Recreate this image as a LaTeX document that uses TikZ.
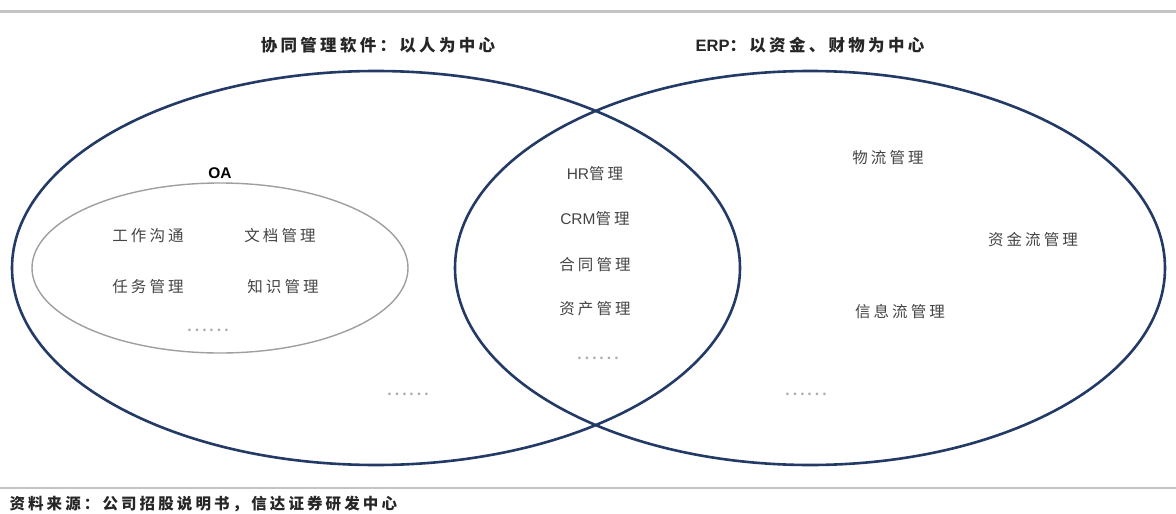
\documentclass[tikz,border=0pt]{standalone}
\usepackage{fontspec}
\usetikzlibrary{shapes.geometric}
\setmainfont{Liberation Sans}
\newfontfamily\cjk{Noto Sans CJK SC}[LetterSpace=20]
\newfontfamily\cjkplain{Noto Sans CJK SC}
\definecolor{navy}{HTML}{233A66}
\definecolor{txt}{HTML}{444444}
\definecolor{rule}{HTML}{C4C4C4}
\tikzset{
  bigset/.style={draw=navy, line width=2.6pt, ellipse, inner sep=0pt},
  oaset/.style={draw=gray!75, line width=1.4pt, ellipse, inner sep=0pt},
  title/.style={font=\fontsize{16.5}{19}\selectfont\bfseries\cjk, text=black!85},
  item/.style={font=\fontsize{15.5}{18}\selectfont\cjk, text=txt},
  dots/.style={font=\fontsize{20}{22}\selectfont\cjkplain, text=gray!65},
  src/.style={font=\fontsize{15.5}{18}\selectfont\bfseries\cjk, text=black!85}
}
\begin{document}
\begin{tikzpicture}[x=1pt,y=-1pt]
\useasboundingbox (0,0) rectangle (1176,514);
\fill[white] (0,0) rectangle (1176,514);
% rules
\draw[rule, line width=3pt] (0,11) -- (1176,11);
\draw[rule, line width=2.2pt] (0,488) -- (1176,488);
% sets
\node[bigset, minimum width=728pt, minimum height=394pt] (left) at (376,268) {};
\node[bigset, minimum width=710pt, minimum height=394pt] (right) at (810,268) {};
\node[oaset, minimum width=376pt, minimum height=170pt] (oa) at (220,268) {};
% titles
\node[title] (tl) at (378,45) {协同管理软件：以人为中心};
\node[title] (tr) at (810,45) {{\rmfamily ERP}：以资金、财物为中心};
\node[font=\fontsize{15.5}{18}\selectfont\bfseries] (oal) at (220,173) {OA};
% OA items
\node[item] (a1) at (148,236) {工作沟通};
\node[item] (a2) at (280,236) {文档管理};
\node[item] (a3) at (148,287) {任务管理};
\node[item] (a4) at (283,287) {知识管理};
\node[dots] (a5) at (208,330) {……};
% left only
\node[dots] (l1) at (408,394) {……};
% middle
\node[item] (m1) at (595,174) {{\rmfamily HR}管理};
\node[item] (m2) at (595,219) {{\rmfamily CRM}管理};
\node[item] (m3) at (595,265) {合同管理};
\node[item] (m4) at (595,309) {资产管理};
\node[dots] (m5) at (598,358) {……};
% right
\node[item] (r1) at (888,158) {物流管理};
\node[item] (r2) at (1033,240) {资金流管理};
\node[item] (r3) at (900,312) {信息流管理};
\node[dots] (r4) at (806,394) {……};
% source
\node[src, anchor=west] (s) at (6,504) {资料来源：公司招股说明书，信达证券研发中心};
\end{tikzpicture}
\end{document}
